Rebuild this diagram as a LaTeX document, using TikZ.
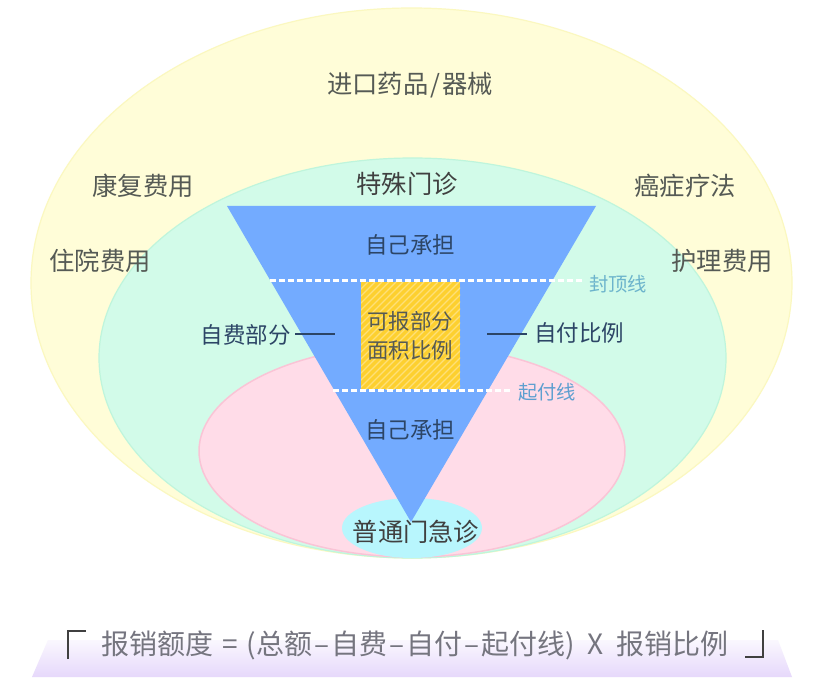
\documentclass[tikz,border=0pt]{standalone}
\usepackage{fontspec}
\setmainfont{Noto Sans CJK SC}
\usetikzlibrary{shadings}
\definecolor{ylw}{HTML}{FFFDD8}
\definecolor{ylwe}{HTML}{FBF8C0}
\definecolor{grn}{HTML}{D2FBE9}
\definecolor{grne}{HTML}{BFF5DC}
\definecolor{pnk}{HTML}{FFDCE8}
\definecolor{pnke}{HTML}{FAC4D6}
\definecolor{cyn}{HTML}{B8F6FD}
\definecolor{blu}{HTML}{73ABFF}
\definecolor{gld}{HTML}{FDD02F}
\definecolor{txt}{HTML}{555A55}
\definecolor{navy}{HTML}{2C4566}
\definecolor{lbl}{HTML}{6CB4CC}
\definecolor{lbl2}{HTML}{5E9FD0}
\definecolor{vio}{HTML}{E6D8FB}
\definecolor{fml}{HTML}{75757F}
\tikzset{
 x=1pt,y=-1pt,
 big/.style={font=\fontsize{25.3}{28}\selectfont,text=txt,inner sep=0pt},
 mid/.style={font=\fontsize{22.5}{26}\selectfont,text=navy,inner sep=0pt},
 small/.style={font=\fontsize{19.3}{22}\selectfont,inner sep=0pt},
 dash line/.style={draw=white,line width=3pt,dash pattern=on 6pt off 3pt},
 tick line/.style={draw=navy,line width=1.3pt},
 brk/.style={draw=black!75,line width=2.8pt},
 fm/.style={font=\fontsize{28}{30}\selectfont,text=fml,inner sep=0pt}
}
\begin{document}
\begin{tikzpicture}
\useasboundingbox (0,0) rectangle (829,684);
\fill[white] (0,0) rectangle (829,684);
\draw[ylwe,fill=ylw,line width=1.2pt] (411.5,283) ellipse [x radius=380.5,y radius=275];
\draw[grne,fill=grn,line width=1.2pt] (412.5,358) ellipse [x radius=313.5,y radius=200];
\draw[pnke,fill=pnk,line width=1.5pt] (412,451) ellipse [x radius=213,y radius=106];
\fill[cyn] (412,528) ellipse [x radius=70,y radius=30];
\coordinate (tl) at (227,206);
\coordinate (tr) at (596,206);
\coordinate (tb) at (411,522);
\fill[blu] (tl) -- (tr) -- (tb) -- cycle;
\fill[gld] (361,282) rectangle (460,389);
\begin{scope}
\clip (361,282) rectangle (460,389);
\foreach \k in {0,7,...,230}
  \draw[white!35!gld,line width=1.4pt] (361+\k,282) -- (361+\k-120,402);
\end{scope}
\coordinate (a1) at (270,281); \coordinate (a2) at (583,281);
\coordinate (b1) at (333,390); \coordinate (b2) at (512,390);
\draw[dash line] (a1) -- (a2);
\draw[dash line] (b1) -- (b2);
\coordinate (l1) at (295,334); \coordinate (l2) at (335,334);
\coordinate (r1) at (487,334); \coordinate (r2) at (527,334);
\draw[tick line] (l1) -- (l2);
\draw[tick line] (r1) -- (r2);
\node[big] (n1) at (410,85) {进口药品\hspace{2pt}/\hspace{2pt}器械};
\node[big] (n2) at (143,186) {康复费用};
\node[big] (n3) at (100,261) {住院费用};
\node[big] (n4) at (685,186) {癌症疗法};
\node[big] (n5) at (722,261) {护理费用};
\node[big,text=black!75] (n6) at (407,184) {特殊门诊};
\node[mid] (n7) at (410,245) {自己承担};
\node[mid] (n8) at (410,430) {自己承担};
\node[font=\fontsize{21.5}{27}\selectfont,text=txt,inner sep=0pt,align=center] (n9) at (410,336) {可报部分\\[2pt]面积比例};
\node[mid] (n10) at (245.5,335) {自费部分};
\node[mid] (n11) at (579,333) {自付比例};
\node[small,text=lbl] (n12) at (618,284) {封顶线};
\node[small,text=lbl2] (n13) at (547,392) {起付线};
\node[big,text=black!75] (n14) at (416,532) {普通门急诊};
\shade[top color=vio!20,bottom color=vio] (48,640) -- (778,640) -- (792,677) -- (32,677) -- cycle;
\node[fm,anchor=west] (n15) at (101,645) {报销额度\hspace{9pt}=\hspace{9pt}(总额\hspace{2pt}–\hspace{2pt}自费\hspace{2pt}–\hspace{2pt}自付\hspace{2pt}–\hspace{2pt}起付线)\hspace{13pt}X\hspace{13pt}报销比例};
\coordinate (c1) at (68,659); \coordinate (c2) at (68,631); \coordinate (c3) at (86,631);
\coordinate (d1) at (745,657); \coordinate (d2) at (763,657); \coordinate (d3) at (763,630);
\draw[brk] (c1) -- (c2) -- (c3);
\draw[brk] (d1) -- (d2) -- (d3);
\end{tikzpicture}
\end{document}
